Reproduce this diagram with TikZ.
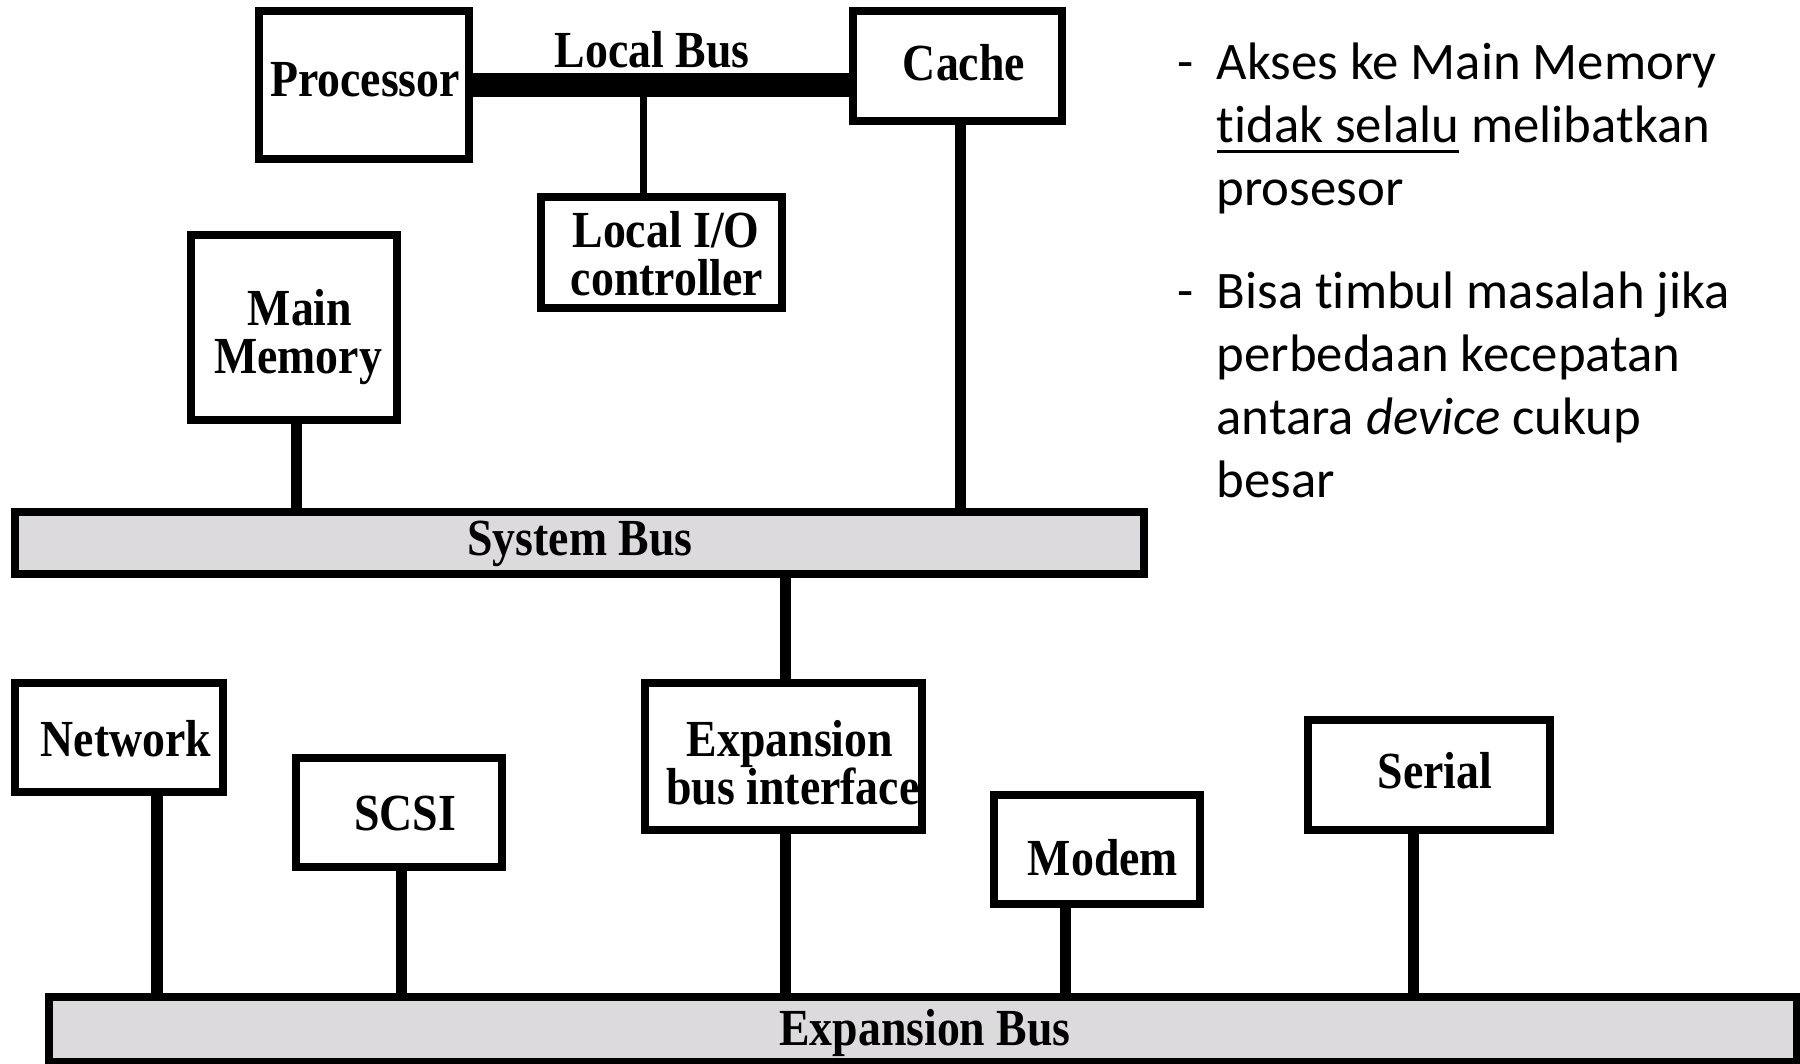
\documentclass[tikz,border=0pt]{standalone}
\usepackage{fontspec}
\newfontfamily\diagfont[FakeStretch=0.88]{Liberation Serif}
\newfontfamily\notefont[Ligatures=NoCommon]{Carlito}
\definecolor{busgray}{RGB}{220,218,221}
% underline with a heavier rule placed a little below the baseline
\newsavebox\undlbox
\newcommand\undl[1]{\sbox\undlbox{#1}\rlap{\rule[-0.11cm]{\wd\undlbox}{0.03cm}}\usebox\undlbox}
\begin{document}
\begin{tikzpicture}[x=0.01cm,y=-0.01cm,
  box/.style={draw,line width=0.08cm,fill=white,inner sep=0pt},
  bus/.style={draw,line width=0.08cm,fill=busgray,inner sep=0pt},
  lbl/.style={inner sep=0pt,anchor=base,font=\diagfont\bfseries\fontsize{14.8pt}{14.8pt}\selectfont},
  note/.style={inner sep=0pt,anchor=base west,font=\notefont\fontsize{15pt}{18pt}\selectfont},
  conn/.style={line width=0.11cm},
  thinconn/.style={line width=0.07cm},
  localbus/.style={line width=0.24cm}]
\useasboundingbox (0,0) rectangle (1800,1063);

% boxes
\node[box,minimum width=2.10cm,minimum height=1.48cm] (proc) at (364,85) {};
\node[box,minimum width=2.09cm,minimum height=1.10cm] (cache) at (957.5,66) {};
\node[box,minimum width=2.41cm,minimum height=1.11cm] (lio) at (661.5,252.5) {};
\node[box,minimum width=2.06cm,minimum height=1.85cm] (mm) at (294,327.5) {};
\node[bus,minimum width=11.29cm,minimum height=0.62cm] (sysbus) at (579.5,543) {};
\node[box,minimum width=2.77cm,minimum height=1.47cm] (ebi) at (783.5,756.5) {};
\node[box,minimum width=2.08cm,minimum height=1.09cm] (net) at (119,737.5) {};
\node[box,minimum width=2.06cm,minimum height=1.09cm] (scsi) at (399,812.5) {};
\node[box,minimum width=2.06cm,minimum height=1.09cm] (modem) at (1097,849.5) {};
\node[box,minimum width=2.42cm,minimum height=1.10cm] (serial) at (1429,775) {};
\node[bus,minimum width=17.46cm,minimum height=0.65cm] (expbus) at (923,1029.5) {};

% attachment points of the connectors
\coordinate (xlio) at (643,0);
\coordinate (xmm) at (296,0);
\coordinate (xcache) at (960,0);
\coordinate (xebi) at (785,0);
\coordinate (xnet) at (157,0);
\coordinate (xscsi) at (401,0);
\coordinate (xmodem) at (1065,0);
\coordinate (xserial) at (1413,0);

% local bus
\draw[localbus] (proc.east) -- (proc.east -| cache.west);
\draw[thinconn] (xlio |- proc.east) -- (xlio |- lio.north);

% system bus connectors
\draw[conn] (xmm |- mm.south) -- (xmm |- sysbus.north);
\draw[conn] (xcache |- cache.south) -- (xcache |- sysbus.north);
\draw[conn] (xebi |- sysbus.south) -- (xebi |- ebi.north);

% expansion bus connectors
\draw[conn] (xnet |- net.south) -- (xnet |- expbus.north);
\draw[conn] (xscsi |- scsi.south) -- (xscsi |- expbus.north);
\draw[conn] (xebi |- ebi.south) -- (xebi |- expbus.north);
\draw[conn] (xmodem |- modem.south) -- (xmodem |- expbus.north);
\draw[conn] (xserial |- serial.south) -- (xserial |- expbus.north);

% labels
\node[lbl] (tproc) at (365,96) {Processor};
\node[lbl] (tlbus) at (652,67) {Local Bus};
\node[lbl] (tcache) at (964,80) {Cache};
\node[lbl] (tlio1) at (666,247) {Local I/O};
\node[lbl] (tlio2) at (667,295) {controller};
\node[lbl] (tmm1) at (300,325) {Main};
\node[lbl] (tmm2) at (298,373) {Memory};
\node[lbl] (tsys) at (580,555) {System Bus};
\node[lbl] (tnet) at (126,756) {Network};
\node[lbl] (tscsi) at (405,830) {SCSI};
\node[lbl] (tebi1) at (790,756) {Expansion};
\node[lbl] (tebi2) at (793,804) {bus interface};
\node[lbl] (tmodem) at (1103,875) {Modem};
\node[lbl] (tserial) at (1435,788) {Serial};
\node[lbl] (texp) at (925,1045) {Expansion Bus};

% notes
\node[note] (d1) at (1177,79) {-};
\node[note] (n1a) at (1216,79) {Akses ke Main Memory};
\node[note] (n1b) at (1216,142) {\undl{tidak selalu} melibatkan};
\node[note] (n1c) at (1216,205) {prosesor};
\node[note] (d2) at (1177,308) {-};
\node[note] (n2a) at (1216,308) {Bisa timbul masalah jika};
\node[note] (n2b) at (1216,371) {perbedaan kecepatan};
\node[note] (n2c) at (1216,434) {antara \textit{device} cukup};
\node[note] (n2d) at (1216,497) {besar};
\end{tikzpicture}
\end{document}
